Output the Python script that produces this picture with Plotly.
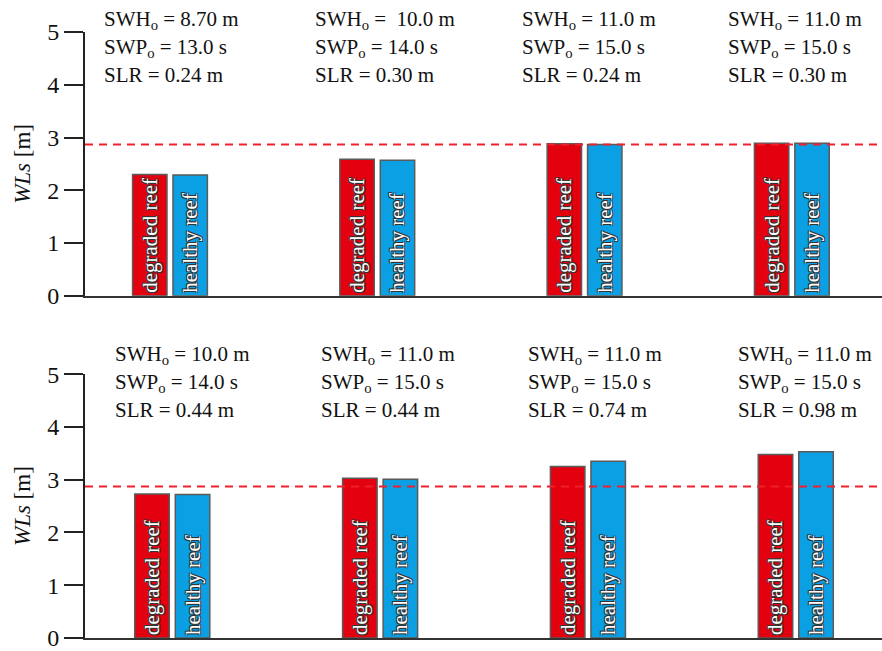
import plotly.graph_objects as go

# ---------------- data ----------------
groups = [0, 1, 2, 3]
top_degraded = [2.30, 2.59, 2.88, 2.89]
top_healthy = [2.29, 2.57, 2.87, 2.89]
bot_degraded = [2.73, 3.03, 3.25, 3.48]
bot_healthy = [2.72, 3.01, 3.35, 3.53]
threshold = 2.87

top_swh = ["8.70", " 10.0", "11.0", "11.0"]
top_swp = ["13.0", "14.0", "15.0", "15.0"]
top_slr = ["0.24", "0.30", "0.24", "0.30"]
bot_swh = ["10.0", "11.0", "11.0", "11.0"]
bot_swp = ["14.0", "15.0", "15.0", "15.0"]
bot_slr = ["0.44", "0.44", "0.74", "0.98"]

labels = ["degraded reef", "healthy reef"]

# ---------------- styling ----------------
W, H = 882, 651
ML, MR, MT, MB = 85, 0, 32, 8
RED = "#e3000f"
BLUE = "#0ba0e3"
FONT = "Liberation Serif"
SHADOW = ("-1px -1px 0 #333, 1px -1px 0 #333, -1px 1px 0 #333, "
          "1px 1px 0 #333")
BAR_W = 0.166
BAR_GAP = 0.029

def py(pix):
    return (H - MB - pix) / (H - MT - MB)

def px(pix):
    return (pix - ML) / (W - ML - MR)

fig = go.Figure()

def add_bars(vals_d, vals_h, xa, ya):
    specs = [(vals_d, RED, labels[0], -(BAR_W + BAR_GAP / 2)),
             (vals_h, BLUE, labels[1], BAR_GAP / 2)]
    for vals, col, lab, off in specs:
        fig.add_trace(go.Bar(
            x=groups, y=vals, xaxis=xa, yaxis=ya,
            width=BAR_W, offset=off,
            marker=dict(color=col, line=dict(color="#5a5a5a", width=1.5)),
            text=[lab] * len(vals), textposition="inside",
            insidetextanchor="start", textangle=-90,
            textfont=dict(family=FONT, size=21, color="white", shadow=SHADOW),
            constraintext="none", showlegend=False, hoverinfo="y",
        ))

add_bars(top_degraded, top_healthy, "x", "y")
add_bars(bot_degraded, bot_healthy, "x2", "y2")

axis_y = dict(range=[0, 5], dtick=1, ticks="outside", ticklen=19, tickwidth=2,
              tickcolor="#222", showline=True, linecolor="#222", linewidth=2,
              showgrid=False, zeroline=False, ticklabeloverflow="allow",
              tickfont=dict(family=FONT, size=24, color="#111"),
              title=dict(text="<i>WLs</i> [m]", standoff=10,
                         font=dict(family=FONT, size=23, color="#111")))
axis_x = dict(showticklabels=False, ticks="", showline=True, linecolor="#333",
              linewidth=2, showgrid=False, zeroline=False)

fig.update_layout(
    width=W, height=H,
    margin=dict(l=ML, r=MR, t=MT, b=MB),
    paper_bgcolor="white", plot_bgcolor="white",
    barmode="overlay",
    font=dict(family=FONT),
    xaxis=dict(axis_x, domain=[0, 1], range=[-0.41, 3.435], anchor="y"),
    yaxis=dict(axis_y, domain=[py(298), 1.0], anchor="x"),
    xaxis2=dict(axis_x, domain=[0, 1], range=[-0.42, 3.415], anchor="y2"),
    yaxis2=dict(axis_y, domain=[0, py(377)], anchor="x2"),
)

for xa, ya in [("x", "y"), ("x2", "y2")]:
    fig.add_shape(type="line", xref=f"{xa} domain", yref=ya, x0=0, x1=1,
                  y0=threshold, y1=threshold,
                  line=dict(color="#f0202c", width=2, dash="8px,6px"))

# annotations
top_x = [102, 313, 520, 726]
bot_x = [113, 319, 526, 736]
top_y = [20, 48, 75]
bot_y = [358, 386, 413]

def add_block(xs, ys, swh, swp, slr):
    for i in range(len(xs)):
        lines = [f"SWH<sub>o</sub> = {swh[i].replace(' ', '&nbsp;')} m",
                 f"SWP<sub>o</sub> = {swp[i]} s",
                 f"SLR = {slr[i]} m"]
        for t, yy in zip(lines, ys):
            fig.add_annotation(text=t, xref="paper", yref="paper",
                               x=px(xs[i]), y=py(yy), xanchor="left",
                               yanchor="middle", showarrow=False,
                               font=dict(family=FONT, size=21, color="#111"))

add_block(top_x, top_y, top_swh, top_swp, top_slr)
add_block(bot_x, bot_y, bot_swh, bot_swp, bot_slr)

fig.write_html("out.html",
               config={"displayModeBar": False},
               post_script="document.body.style.margin='0';"
                           "document.body.style.overflow='hidden';")
